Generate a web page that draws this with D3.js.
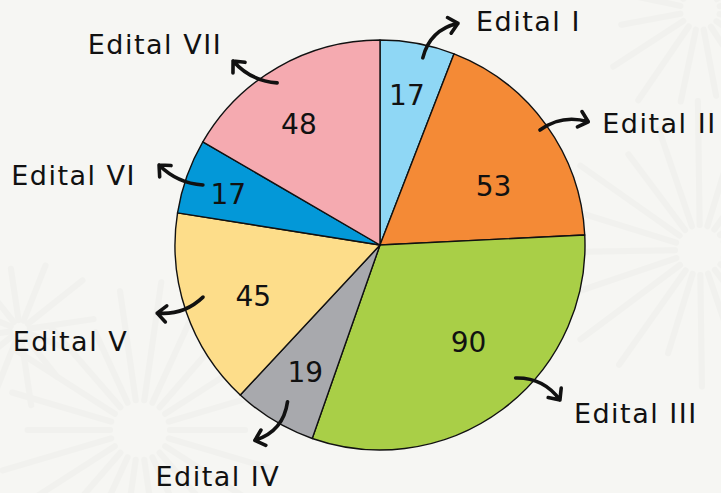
<!DOCTYPE html>
<html>
<head>
<meta charset="utf-8">
<script src="https://cdn.jsdelivr.net/npm/d3@7/dist/d3.min.js"></script>
<style>
  html, body { margin: 0; padding: 0; background: #f6f6f3; }
  svg { display: block; }
  text { font-family: "DejaVu Sans", "Open Sans", sans-serif; fill: #111; }
</style>
</head>
<body>
<svg id="chart" width="721" height="493"></svg>
<script>
// Calls per edital
const categories = ["Edital I", "Edital II", "Edital III", "Edital IV", "Edital V", "Edital VI", "Edital VII"];
const values = [17, 53, 90, 19, 45, 17, 48];
const colors = ["#8fd7f5", "#f48a36", "#a9cf47", "#a8a9ad", "#fddd8a", "#0398d8", "#f5aab0"];

const W = 721, H = 493;
const cx = 380, cy = 245, R = 205;

const svg = d3.select("#chart");

// faint firework bursts in the backdrop
const bursts = [
  { x: 140, y: 430, r0: 30, r1: 150, n: 22 },
  { x: 700, y: 250, r0: 25, r1: 150, n: 20 },
  { x: 700, y: 10, r0: 20, r1: 110, n: 16 },
  { x: 20, y: 330, r0: 10, r1: 80, n: 12 }
];
const bg = svg.append("g").attr("opacity", 0.3);
bursts.forEach((b, bi) => {
  d3.range(b.n).forEach(i => {
    const a = (i / b.n) * Math.PI * 2 + bi * 0.3;
    const len = b.r1 * (0.7 + 0.3 * Math.abs(Math.sin(i * 2.3 + bi)));
    bg.append("line")
      .attr("x1", b.x + Math.cos(a) * b.r0)
      .attr("y1", b.y + Math.sin(a) * b.r0)
      .attr("x2", b.x + Math.cos(a) * len)
      .attr("y2", b.y + Math.sin(a) * len)
      .attr("stroke", "#e6e7e3")
      .attr("stroke-width", 6)
      .attr("stroke-linecap", "round");
  });
});

const data = categories.map((c, i) => ({ name: c, value: values[i], color: colors[i] }));

const pie = d3.pie().sort(null).value(d => d.value);
const arcs = pie(data);
const arc = d3.arc().innerRadius(0).outerRadius(R);

const g = svg.append("g").attr("transform", `translate(${cx},${cy})`);

g.selectAll("path.slice")
  .data(arcs)
  .join("path")
  .attr("class", "slice")
  .attr("d", arc)
  .attr("fill", d => d.data.color)
  .attr("stroke", "#111")
  .attr("stroke-width", 1.4)
  .attr("stroke-linejoin", "round");

// value labels: radius and angular nudge per slice
const valueRadius = [152, 128, 132, 148, 137, 160, 145];
const valueTurn = [-0.4, 8.4, -5.4, -0.8, -3.3, -1.1, -4.1];
const polar = (deg, r) => {
  const a = deg * Math.PI / 180;
  return [Math.sin(a) * r, -Math.cos(a) * r];
};
const midDeg = d => ((d.startAngle + d.endAngle) / 2) * 180 / Math.PI;

g.selectAll("text.value")
  .data(arcs)
  .join("text")
  .attr("class", "value")
  .attr("text-anchor", "middle")
  .attr("dominant-baseline", "central")
  .attr("font-size", 28)
  .attr("x", (d, i) => polar(midDeg(d) + valueTurn[i], valueRadius[i])[0])
  .attr("y", (d, i) => polar(midDeg(d) + valueTurn[i], valueRadius[i])[1])
  .text(d => d.data.value);

// curved callout arrows: start / end as polar offsets around the slice middle
const arrowStart = [[2.3, 192], [0.1, 197], [-8.8, 190], [-0.6, 182], [2.6, 184.5], [-0.9, 187], [-2.5, 192]];
const arrowEnd = [[8.8, 235], [5.2, 242], [-12.5, 237.5], [1.5, 232], [2.0, 233], [0.3, 235], [-8.7, 235.5]];
const arrowBend = [-15, -12, -13, -16, -11, -9, -10];

// callout text placement relative to the arrow tip
const calloutOffset = [[18, 8], [14, 11], [14, 23], [-37, 46], [-29, 38], [-23, 20], [-11, -7]];
const calloutAnchor = ["start", "start", "start", "middle", "end", "end", "end"];

const callouts = svg.append("g").attr("transform", `translate(${cx},${cy})`);

arcs.forEach((d, i) => {
  const m = midDeg(d);
  const [x0, y0] = polar(m + arrowStart[i][0], arrowStart[i][1]);
  const [x1, y1] = polar(m + arrowEnd[i][0], arrowEnd[i][1]);
  const dx = x1 - x0, dy = y1 - y0, len = Math.hypot(dx, dy);
  const nx = -dy / len, ny = dx / len;
  const qx = (x0 + x1) / 2 + nx * arrowBend[i];
  const qy = (y0 + y1) / 2 + ny * arrowBend[i];

  const p = d3.path();
  p.moveTo(x0, y0);
  p.quadraticCurveTo(qx, qy, x1, y1);

  // arrowhead along the tangent at the tip
  const tx = x1 - qx, ty = y1 - qy, tl = Math.hypot(tx, ty);
  const ux = tx / tl, uy = ty / tl;
  const head = 12, spread = 42 * Math.PI / 180;
  const rot = (a) => [ux * Math.cos(a) - uy * Math.sin(a), ux * Math.sin(a) + uy * Math.cos(a)];
  const [ax, ay] = rot(spread), [bx, by] = rot(-spread);
  p.moveTo(x1 - ax * head, y1 - ay * head);
  p.lineTo(x1, y1);
  p.lineTo(x1 - bx * head, y1 - by * head);

  callouts.append("path")
    .attr("d", p.toString())
    .attr("fill", "none")
    .attr("stroke", "#111")
    .attr("stroke-width", 3.6)
    .attr("stroke-linecap", "round")
    .attr("stroke-linejoin", "round");

  callouts.append("text")
    .attr("x", x1 + calloutOffset[i][0])
    .attr("y", y1 + calloutOffset[i][1])
    .attr("text-anchor", calloutAnchor[i])
    .attr("font-size", 27)
    .attr("letter-spacing", 1.5)
    .text(d.data.name);
});
</script>
</body>
</html>
